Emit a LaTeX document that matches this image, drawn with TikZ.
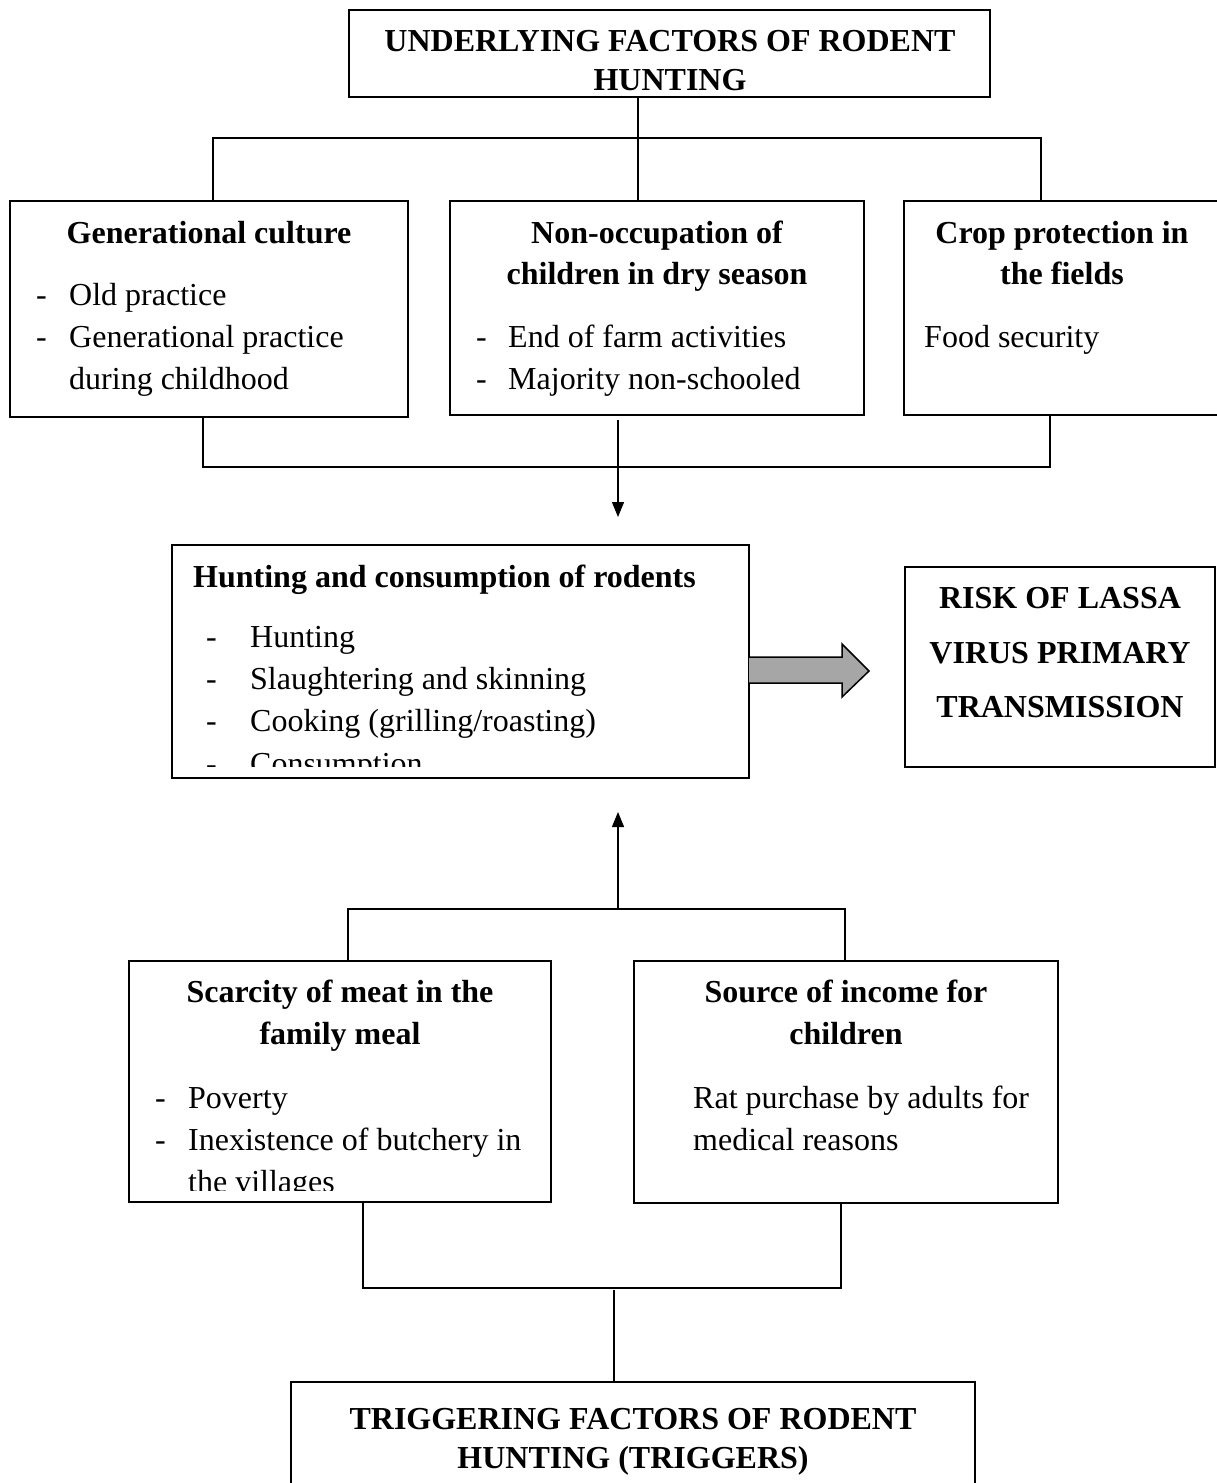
\documentclass[tikz,border=0pt]{standalone}
\usepackage{fontspec}
\setmainfont{Liberation Serif}
\usetikzlibrary{arrows.meta}
\definecolor{arrowgray}{RGB}{166,166,166}
\tikzset{
  box/.style={draw, line width=2pt, inner sep=0pt, outer sep=0pt, anchor=north west},
  thinbox/.style={box, line width=1.2pt},
  hd/.style={font=\bfseries\fontsize{32}{40}\selectfont, inner sep=0pt, anchor=base},
  tx/.style={font=\fontsize{32}{42}\selectfont, inner sep=0pt, anchor=base west},
  bus/.style={line width=2pt},
  arr/.style={line width=1.2pt, -{Triangle[length=15pt,width=12pt]}},
}
\begin{document}
\begin{tikzpicture}[x=1pt,y=-1pt]
\fill[white] (0,0) rectangle (1216,1483);
\useasboundingbox (0,0) rectangle (1216,1483);

% boxes
\node[box, minimum width=641pt, minimum height=87pt] (top) at (349,10) {};
\node[box, minimum width=398pt, minimum height=216pt] (b1) at (10,201) {};
\node[box, minimum width=414pt, minimum height=214pt] (b2) at (450,201) {};
\node[box, minimum width=318pt, minimum height=214pt] (b3) at (904,201) {};
\node[box, minimum width=577pt, minimum height=233pt] (mid) at (172,545) {};
\node[thinbox, minimum width=310pt, minimum height=200pt] (risk) at (905,567) {};
\node[box, minimum width=422pt, minimum height=241pt] (b4) at (129,961) {};
\node[box, minimum width=424pt, minimum height=242pt] (b5) at (634,961) {};
\node[box, minimum width=684pt, minimum height=140pt] (bot) at (291,1382) {};

% texts: top
\node[hd] (t1) at (670,51) {UNDERLYING FACTORS OF RODENT};
\node[hd] (t2) at (670,90) {HUNTING};
% box 1
\node[hd] (h1) at (209,243) {Generational culture};
\node[tx] (d11) at (36,305) {-};
\node[tx] (l11) at (69,305) {Old practice};
\node[tx] (d12) at (36,347) {-};
\node[tx] (l12) at (69,347) {Generational practice};
\node[tx] (l13) at (69,389) {during childhood};
% box 2
\node[hd] (h21) at (657,243) {Non-occupation of};
\node[hd] (h22) at (657,284) {children in dry season};
\node[tx] (d21) at (476,347) {-};
\node[tx] (l21) at (508,347) {End of farm activities};
\node[tx] (d22) at (476,389) {-};
\node[tx] (l22) at (508,389) {Majority non-schooled};
% box 3
\node[hd] (h31) at (1062,243) {Crop protection in};
\node[hd] (h32) at (1062,284) {the fields};
\node[tx] (l31) at (924,347) {Food security};
% middle
\node[hd, anchor=base west] (hm) at (193,587) {Hunting and consumption of rodents};
\node[tx] (dm1) at (206,647) {-};
\node[tx] (lm1) at (250,647) {Hunting};
\node[tx] (dm2) at (206,689) {-};
\node[tx] (lm2) at (250,689) {Slaughtering and skinning};
\node[tx] (dm3) at (206,731) {-};
\node[tx] (lm3) at (250,731) {Cooking (grilling/roasting)};
\begin{scope}
\clip (172,545) rectangle (749,766);
\node[tx] (dm4) at (206,774) {-};
\node[tx] (lm4) at (250,774) {Consumption};
\end{scope}
% risk
\node[hd] (r1) at (1060,608) {RISK OF LASSA};
\node[hd] (r2) at (1060,663) {VIRUS PRIMARY};
\node[hd] (r3) at (1060,717) {TRANSMISSION};
% box 4
\node[hd] (h41) at (340,1002) {Scarcity of meat in the};
\node[hd] (h42) at (340,1044) {family meal};
\node[tx] (d41) at (155,1108) {-};
\node[tx] (l41) at (188,1108) {Poverty};
\node[tx] (d42) at (155,1150) {-};
\node[tx] (l42) at (188,1150) {Inexistence of butchery in};
\begin{scope}
\clip (129,961) rectangle (551,1190);
\node[tx] (l43) at (188,1192) {the villages};
\end{scope}
% box 5
\node[hd] (h51) at (846,1002) {Source of income for};
\node[hd] (h52) at (846,1044) {children};
\node[tx] (l51) at (693,1108) {Rat purchase by adults for};
\node[tx] (l52) at (693,1150) {medical reasons};
% bottom
\node[hd] (bt1) at (633,1429) {TRIGGERING FACTORS OF RODENT};
\node[hd] (bt2) at (633,1468) {HUNTING (TRIGGERS)};

% connectors top
\coordinate (j1) at (638,138);
\coordinate (jL) at (213,138);
\coordinate (jR) at (1041,138);
\draw[bus] (j1 |- top.south) -- (j1);
\draw[bus] (jL |- b1.north) -- (jL) -- (jR) -- (jR |- b3.north);
\draw[bus] (j1) -- (j1 |- b2.north);
% lower bus under row 1
\coordinate (kL) at (203,467);
\coordinate (kR) at (1050,467);
\draw[bus] (kL |- b1.south) -- (kL) -- (kR) -- (kR |- b3.south);
\coordinate (a0) at (618,420);
\coordinate (a1) at (618,517);
\draw[arr] (a0) -- (a1);
% block arrow
\draw[line width=1.5pt, fill=arrowgray, line join=miter]
  (mid.east |- 0,657) -- (842,657) -- (842,644) -- (869,671) -- (842,697) -- (842,683) -- (mid.east |- 0,683);
% up arrow
\coordinate (u0) at (618,908);
\coordinate (u1) at (618,812);
\draw[arr] (u0) -- (u1);
% bus above row 3
\coordinate (mL) at (348,909);
\coordinate (mR) at (845,909);
\draw[bus] (mL |- b4.north) -- (mL) -- (mR) -- (mR |- b5.north);
% bus below row 3
\coordinate (nL) at (363,1288);
\coordinate (nR) at (841,1288);
\coordinate (nC) at (614,1290);
\draw[bus] (nL |- b4.south) -- (nL) -- (nR) -- (nR |- b5.south);
\draw[bus] (nC) -- (nC |- bot.north);
\end{tikzpicture}
\end{document}
